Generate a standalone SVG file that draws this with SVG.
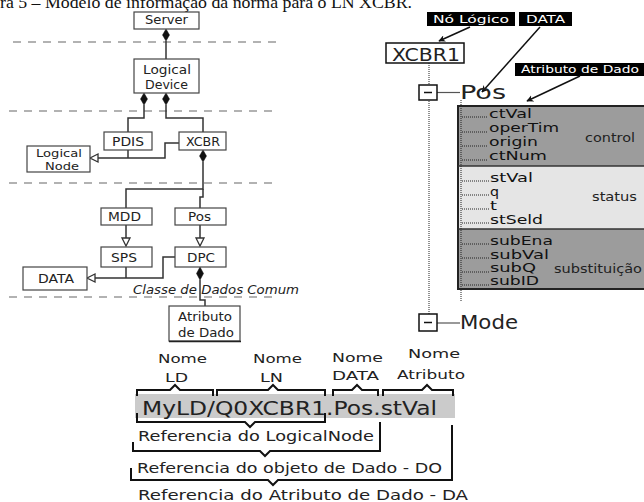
<svg xmlns="http://www.w3.org/2000/svg" width="644" height="502" viewBox="0 0 644 502">
<defs>
<style>
.t{font-family:"DejaVu Sans",Verdana,sans-serif;fill:#222}
.b{fill:#fff;stroke:#444;stroke-width:1.2}
.c{fill:none;stroke:#333;stroke-width:1.5}
.dash{stroke:#999;stroke-width:1.3;stroke-dasharray:8 7}
.dia{fill:#111;stroke:#111;stroke-width:0.5}
.tri{fill:#fff;stroke:#333;stroke-width:1.3}
.lab{fill:#000}
.lt{font-family:"DejaVu Sans",Verdana,sans-serif;fill:#fff;font-size:11px}
.arr{fill:none;stroke:#111;stroke-width:1.5}
.dot{fill:none;stroke:#222;stroke-width:1;stroke-dasharray:1 1}
.it{font-family:"DejaVu Sans",Verdana,sans-serif;font-size:13px;fill:#111}
.br{fill:none;stroke:#111;stroke-width:2}
</style>
<marker id="ah" viewBox="0 0 10 10" refX="9" refY="5" markerWidth="7" markerHeight="7" orient="auto" markerUnits="userSpaceOnUse">
<path d="M0,0 L10,5 L0,10 L3,5 z" fill="#111"/>
</marker>
</defs>

<text x="0" y="8" font-family="Liberation Serif, serif" font-size="17" fill="#111" textLength="412" lengthAdjust="spacingAndGlyphs">ra 5 – Modelo de informação da norma para o LN XCBR.</text>

<g id="layers">
<line class="dash" x1="13" y1="42" x2="283" y2="42"/>
<line class="dash" x1="9" y1="111" x2="278" y2="111"/>
<line class="dash" x1="9" y1="183" x2="278" y2="183"/>
<line class="dash" x1="9" y1="297" x2="278" y2="297"/>
</g>

<g id="connectors-left">
<polygon class="dia" points="166,29 169.5,35 166,41 162.5,35"/>
<path class="c" d="M166,41 V59"/>
<polygon class="dia" points="144,93 147.5,99 144,105 140.5,99"/>
<polygon class="dia" points="166,93 169.5,99 166,105 162.5,99"/>
<path class="c" d="M144,105 V118 H128 V132"/>
<path class="c" d="M166,105 V118 H203 V132"/>
<path class="c" d="M128,150 V158"/>
<path class="c" d="M97,158 H165 V143 H179"/>
<polygon class="tri" points="90,158 98,154 98,162"/>
<polygon class="dia" points="203,150 206.5,156 203,162 199.5,156"/>
<path class="c" d="M203,162 V189 H126 V208"/>
<path class="c" d="M203,189 V197 H200 V208"/>
<path class="c" d="M126,225 V238"/>
<polygon class="tri" points="122,238 130,238 126,246"/>
<path class="c" d="M200,225 V238"/>
<polygon class="tri" points="196,238 204,238 200,246"/>
<path class="c" d="M126,267 V278"/>
<path class="c" d="M95,278 H163 V257 H175"/>
<polygon class="tri" points="87,278 95,274 95,282"/>
<polygon class="dia" points="200,267 203.5,273.5 200,280 196.5,273.5"/>
<path class="c" d="M200,280 V300 H205 V306"/>
</g>

<g id="server"><rect class="b" x="134" y="12" width="65" height="17"/><text class="t" x="145" y="24" font-size="11.5" textLength="43" lengthAdjust="spacingAndGlyphs">Server</text></g>
<g id="logical-device"><rect class="b" x="134" y="59" width="65" height="34"/><text class="t" x="143" y="74" font-size="11.5" textLength="48" lengthAdjust="spacingAndGlyphs">Logical</text><text class="t" x="145" y="89" font-size="11.5" textLength="43" lengthAdjust="spacingAndGlyphs">Device</text></g>
<g id="pdis"><rect class="b" x="104" y="132" width="48" height="18"/><text class="t" x="112" y="146" font-size="11.5" textLength="32" lengthAdjust="spacingAndGlyphs">PDIS</text></g>
<g id="xcbr"><rect class="b" x="179" y="132" width="47" height="18"/><text class="t" x="186" y="146" font-size="11.5" textLength="34" lengthAdjust="spacingAndGlyphs">XCBR</text></g>
<g id="logical-node"><rect class="b" x="27" y="146" width="63" height="26"/><text class="t" x="36" y="157" font-size="11" textLength="46" lengthAdjust="spacingAndGlyphs">Logical</text><text class="t" x="45" y="169.5" font-size="11" textLength="34" lengthAdjust="spacingAndGlyphs">Node</text></g>
<g id="mdd"><rect class="b" x="101" y="208" width="51" height="17"/><text class="t" x="108" y="221" font-size="11.5" textLength="33" lengthAdjust="spacingAndGlyphs">MDD</text></g>
<g id="pos-l"><rect class="b" x="175" y="208" width="51" height="17"/><text class="t" x="188" y="221" font-size="11.5" textLength="23" lengthAdjust="spacingAndGlyphs">Pos</text></g>
<g id="sps"><rect class="b" x="101" y="247" width="51" height="20"/><text class="t" x="111" y="262" font-size="11.5" textLength="26" lengthAdjust="spacingAndGlyphs">SPS</text></g>
<g id="dpc"><rect class="b" x="175" y="247" width="51" height="20"/><text class="t" x="187" y="262" font-size="11.5" textLength="28" lengthAdjust="spacingAndGlyphs">DPC</text></g>
<g id="data-l"><rect class="b" x="23" y="267" width="64" height="23"/><text class="t" x="38" y="283" font-size="11.5" textLength="36" lengthAdjust="spacingAndGlyphs">DATA</text></g>
<g id="cdc"><text class="t" x="133" y="294" font-size="12" font-style="italic" fill="#333" textLength="166" lengthAdjust="spacingAndGlyphs">Classe de Dados Comum</text></g>
<g id="atributo-de-dado"><rect class="b" x="169" y="306" width="71" height="35"/><line x1="169" y1="341.5" x2="241" y2="341.5" stroke="#222" stroke-width="1.5"/><text class="t" x="178" y="321" font-size="11.5" textLength="54" lengthAdjust="spacingAndGlyphs">Atributo</text><text class="t" x="178" y="337" font-size="11.5" textLength="56" lengthAdjust="spacingAndGlyphs">de Dado</text></g>

<g id="tree-lines">
<line class="dot" x1="429" y1="63" x2="429" y2="314"/>
<line x1="437" y1="92.5" x2="460" y2="92.5" stroke="#555" stroke-width="1.2"/>
<line x1="437" y1="323" x2="460" y2="323" stroke="#555" stroke-width="1.2"/>
</g>

<g id="label-no-logico"><rect class="lab" x="427" y="12" width="88" height="14"/><text class="lt" x="433" y="23" textLength="76" lengthAdjust="spacingAndGlyphs">Nó Lógico</text></g>
<g id="label-data"><rect class="lab" x="519" y="12" width="53" height="14"/><text class="lt" x="526" y="23" textLength="39" lengthAdjust="spacingAndGlyphs">DATA</text></g>
<g id="label-atributo"><rect class="lab" x="515" y="63" width="129" height="13"/><text class="lt" x="521" y="73" textLength="118" lengthAdjust="spacingAndGlyphs">Atributo de Dado</text></g>

<g id="arrows-right">
<line class="arr" x1="470" y1="27" x2="439" y2="41" marker-end="url(#ah)"/>
<line class="arr" x1="540" y1="27" x2="482" y2="92" marker-end="url(#ah)"/>
<line class="arr" x1="580" y1="76" x2="527" y2="101" marker-end="url(#ah)"/>
</g>

<g id="xcbr1"><rect x="386" y="43" width="78" height="20" fill="#fff" stroke="#111" stroke-width="1.5"/><text class="t" x="392" y="61" font-size="17" fill="#111" textLength="68" lengthAdjust="spacingAndGlyphs">XCBR1</text></g>

<g id="pos-r"><rect x="419" y="85" width="18" height="15" fill="#fff" stroke="#111" stroke-width="1.5"/><line x1="424" y1="92.5" x2="432" y2="92.5" stroke="#111" stroke-width="1.5"/><text class="t" x="460" y="99" font-size="19" fill="#111" textLength="46" lengthAdjust="spacingAndGlyphs">Pos</text></g>

<g id="mode"><rect x="419" y="314" width="18" height="17" fill="#fff" stroke="#111" stroke-width="1.5"/><line x1="424" y1="322.5" x2="432" y2="322.5" stroke="#111" stroke-width="1.5"/><text class="t" x="460" y="329" font-size="19" fill="#111" textLength="58" lengthAdjust="spacingAndGlyphs">Mode</text></g>

<g id="attr-box">
<rect x="458" y="106" width="190" height="60" fill="#9c9c9c"/>
<rect x="458" y="166" width="190" height="63" fill="#e5e5e5"/>
<rect x="458" y="229" width="190" height="60" fill="#9c9c9c"/>
<path d="M648,106 H458 V289 H648" fill="none" stroke="#222" stroke-width="2"/>
<line x1="458" y1="166" x2="648" y2="166" stroke="#333" stroke-width="1.5"/>
<line x1="458" y1="229" x2="648" y2="229" stroke="#333" stroke-width="1.5"/>
<line class="dot" x1="461" y1="100" x2="461" y2="302"/>
</g>

<g id="control">
<path class="dot" d="M462,117 H488 M462,132 H488 M462,146 H488 M462,160 H488"/>
<text class="it" x="489" y="118" textLength="43" lengthAdjust="spacingAndGlyphs">ctVal</text>
<text class="it" x="489" y="132" textLength="70" lengthAdjust="spacingAndGlyphs">operTim</text>
<text class="it" x="489" y="146" textLength="49" lengthAdjust="spacingAndGlyphs">origin</text>
<text class="it" x="489" y="160" textLength="58" lengthAdjust="spacingAndGlyphs">ctNum</text>
<text class="t" x="585" y="142" font-size="12" fill="#111" textLength="50" lengthAdjust="spacingAndGlyphs">control</text>
</g>
<g id="status">
<path class="dot" d="M462,181 H489 M462,195 H489 M462,209 H489 M462,223 H489"/>
<text class="it" x="490" y="182" textLength="43" lengthAdjust="spacingAndGlyphs">stVal</text>
<text class="it" x="490" y="196" textLength="9" lengthAdjust="spacingAndGlyphs">q</text>
<text class="it" x="490" y="210" textLength="7" lengthAdjust="spacingAndGlyphs">t</text>
<text class="it" x="490" y="224" textLength="53" lengthAdjust="spacingAndGlyphs">stSeld</text>
<text class="t" x="592" y="201" font-size="12" fill="#111" textLength="45" lengthAdjust="spacingAndGlyphs">status</text>
</g>
<g id="substituicao">
<path class="dot" d="M462,244 H489 M462,258 H489 M462,272 H489 M462,285 H489"/>
<text class="it" x="490" y="245" textLength="63" lengthAdjust="spacingAndGlyphs">subEna</text>
<text class="it" x="490" y="259" textLength="59" lengthAdjust="spacingAndGlyphs">subVal</text>
<text class="it" x="490" y="272" textLength="46" lengthAdjust="spacingAndGlyphs">subQ</text>
<text class="it" x="490" y="285" textLength="49" lengthAdjust="spacingAndGlyphs">subID</text>
<text class="t" x="554" y="273" font-size="12" fill="#111" textLength="88" lengthAdjust="spacingAndGlyphs">substituição</text>
</g>

<g id="ref-names">
<text class="t" x="158" y="363" font-size="13" fill="#333" textLength="49" lengthAdjust="spacingAndGlyphs">Nome</text>
<text class="t" x="165" y="382" font-size="13" fill="#333" textLength="23" lengthAdjust="spacingAndGlyphs">LD</text>
<text class="t" x="253" y="363" font-size="13" fill="#333" textLength="49" lengthAdjust="spacingAndGlyphs">Nome</text>
<text class="t" x="260" y="382" font-size="13" fill="#333" textLength="23" lengthAdjust="spacingAndGlyphs">LN</text>
<text class="t" x="332" y="362" font-size="13" fill="#333" textLength="51" lengthAdjust="spacingAndGlyphs">Nome</text>
<text class="t" x="332" y="380" font-size="13" fill="#333" textLength="47" lengthAdjust="spacingAndGlyphs">DATA</text>
<text class="t" x="408" y="358" font-size="13" fill="#333" textLength="52" lengthAdjust="spacingAndGlyphs">Nome</text>
<text class="t" x="397" y="379" font-size="13" fill="#333" textLength="68" lengthAdjust="spacingAndGlyphs">Atributo</text>
</g>
<g id="ref-string">
<rect x="135" y="394" width="320" height="24" fill="#cbcbcb"/>
<text class="t" x="142" y="415" font-size="19" fill="#222" textLength="295" lengthAdjust="spacingAndGlyphs">MyLD/Q0XCBR1.Pos.stVal</text>
</g>
<g id="braces">
<path class="br" d="M137,396 V390 H170 L175,385 L180,390 H213 V396"/>
<path class="br" d="M217,396 V390 H268 L273,385 L278,390 H325 V396"/>
<path class="br" d="M333,396 V390 H352 L357,385 L362,390 H378 V396"/>
<path class="br" d="M383,396 V390 H422 L427,385 L432,390 H453 V396"/>
<path class="br" d="M137,413 V422 H245 L250,427 L255,422 H325 V413"/>
<path class="br" d="M133,442 V451 H260 L265,456 L270,451 H380 V422"/>
<path class="br" d="M131,468 V480 H268 L273,485 L278,480 H452 V425"/>
</g>
<g id="ref-labels">
<text class="t" x="138" y="441" font-size="14" fill="#111" textLength="236" lengthAdjust="spacingAndGlyphs">Referencia do LogicalNode</text>
<text class="t" x="137" y="473" font-size="14" fill="#111" textLength="305" lengthAdjust="spacingAndGlyphs">Referencia do objeto de Dado - DO</text>
<text class="t" x="138" y="500" font-size="14" fill="#111" textLength="330" lengthAdjust="spacingAndGlyphs">Referencia do Atributo de Dado - DA</text>
</g>
</svg>
